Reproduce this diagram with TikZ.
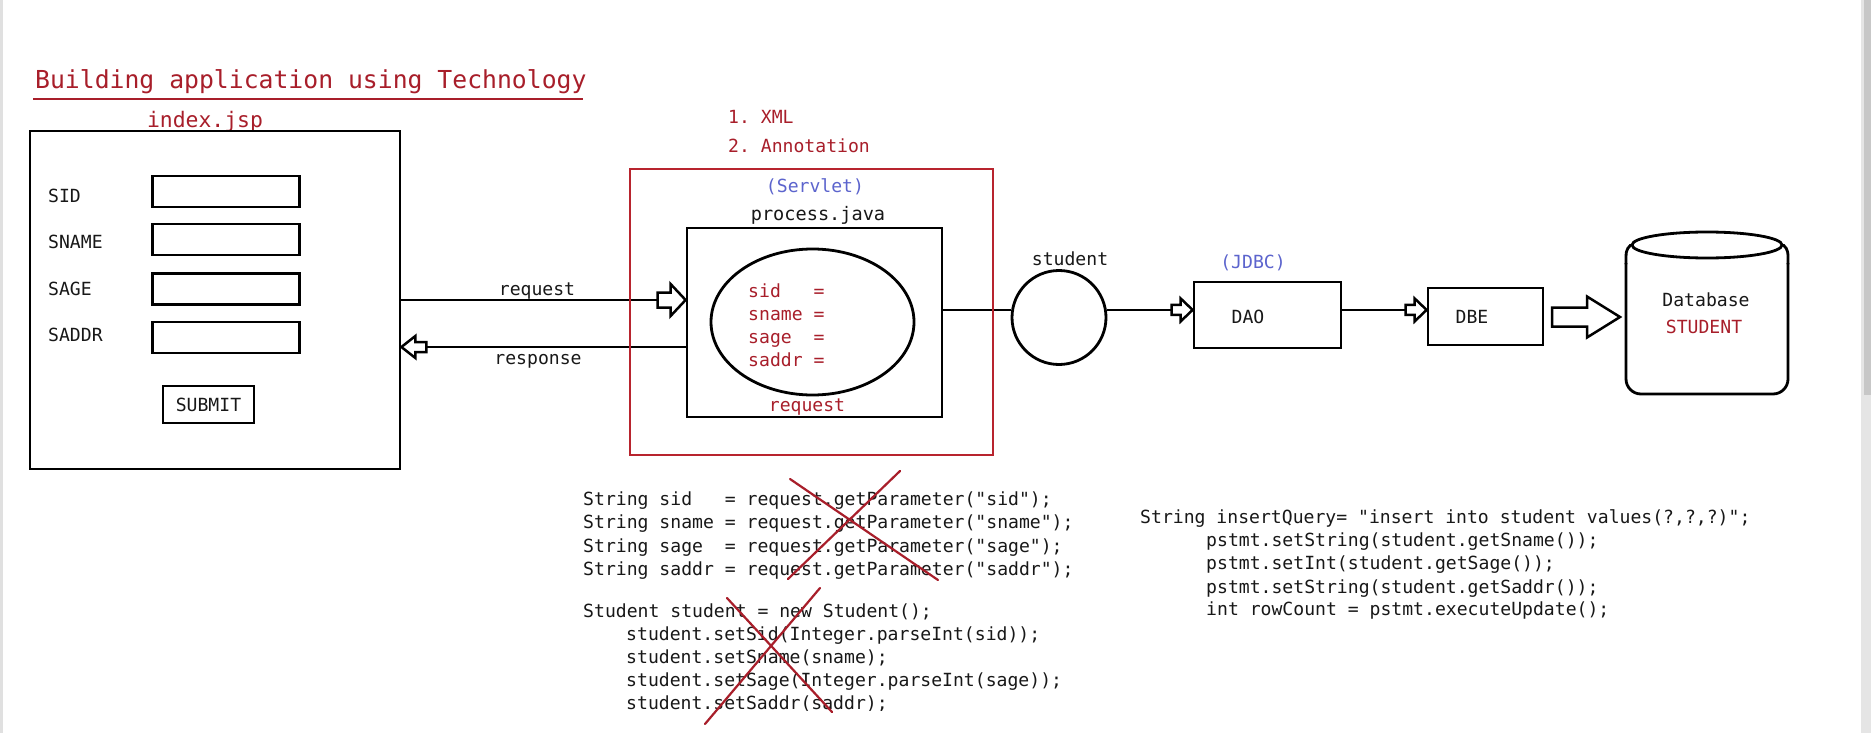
\documentclass[tikz,border=0pt]{standalone}
\usepackage{fontspec}
\setmonofont{DejaVu Sans Mono}
\usetikzlibrary{calc,shapes.geometric}
\definecolor{dred}{RGB}{168,30,42}
\definecolor{bred}{RGB}{184,36,46}
\definecolor{sblue}{RGB}{92,100,205}
\definecolor{ink}{RGB}{24,24,24}
\newcommand\myfs[1]{\ttfamily\fontsize{#1}{#1}\selectfont}
\tikzset{
  txt/.style={inner sep=0pt, text=ink, font=\myfs{18.1}},
  code/.style={txt, anchor=west, text height=17pt, text depth=3pt},
  box/.style={draw=black, line width=2.8pt, inner sep=0pt, rectangle},
  wire/.style={draw=black, line width=2.8pt},
  cross/.style={draw=dred, line width=2.2pt, line cap=round},
  pics/harrow/.style args={#1/#2/#3/#4}{code={
    \draw[line width=2.5pt, fill=white, line join=miter]
      (0,0) -- (-#3,-#4) -- (-#3,-#2) -- (-#3-#1,-#2) -- (-#3-#1,#2) -- (-#3,#2) -- (-#3,#4) -- cycle;}},
}
\begin{document}
\begin{tikzpicture}[x=1pt,y=-1pt]
\useasboundingbox (0,0) rectangle (1871,733);
\fill[white] (0,0) rectangle (1871,733);
\fill[black!12] (0,0) rectangle (3,733);
\fill[black!10] (1861,0) rectangle (1871,733);
\fill[black!22] (1864,0) rectangle (1871,395);

% title
\node[txt, text=dred, font=\myfs{24.75}, anchor=west] (title) at (35,82) {Building application using Technology};
\draw[dred, line width=2.6pt] (33,99) -- (583,99);

% index.jsp
\node[txt, text=dred, font=\myfs{21.4}] (idxlabel) at (205,122) {index.jsp};
\node[box, minimum width=370pt, minimum height=338pt] (idx) at (215,300) {};
\node[code] (lsid) at (48,195) {SID};
\node[code] (lsname) at (48,241) {SNAME};
\node[code] (lsage) at (48,288) {SAGE};
\node[code] (lsaddr) at (48,334) {SADDR};
\node[box, minimum width=147pt, minimum height=31pt] (fsid) at (226,191.5) {};
\node[box, minimum width=147pt, minimum height=31pt] (fsname) at (226,239.5) {};
\node[box, minimum width=147pt, minimum height=31pt] (fsage) at (226,289) {};
\node[box, minimum width=147pt, minimum height=31pt] (fsaddr) at (226,337.5) {};
\node[box, txt, draw=black, line width=2.8pt, minimum width=91pt, minimum height=37pt] (submit) at (208.5,404.5) {SUBMIT};

% servlet
\node[txt, text=dred, anchor=west] (xml) at (728,117) {1. XML};
\node[txt, text=dred, anchor=west] (anno) at (728,146) {2. Annotation};
\node[txt, text=sblue] (servlbl) at (815,187) {(Servlet)};
\node[txt, font=\myfs{18.6}] (proclbl) at (818,215) {process.java};
\node[box, minimum width=255pt, minimum height=189pt] (proc) at (814.5,322.5) {};
\node[draw=black, ellipse, line width=2.8pt, inner sep=0pt, minimum width=203pt, minimum height=146pt] (reqobj) at (812.5,322) {};
\node[code, text=dred] (psid) at (748,290) {sid\ \ \ =};
\node[code, text=dred] (psname) at (748,313) {sname =};
\node[code, text=dred] (psage) at (748,336) {sage\ \ =};
\node[code, text=dred] (psaddr) at (748,359) {saddr =};
\node[txt, text=dred] (reqobjlbl) at (807,407) {request};

% request / response
\coordinate (reqtip) at (proc.west |- 0,300);
\draw[wire] (idx.east |- reqtip) -- ($(reqtip)+(-28,0)$);
\pic at (reqtip) {harrow=13/7.5/15/16};
\node[txt] (reqtxt) at (537,291) {request};
\coordinate (resptip) at (idx.east |- 0,347);
\draw[wire] (proc.west |- resptip) -- ($(resptip)+(25,0)$);
\pic[rotate=180] at (resptip) {harrow=11/5/14/11};
\node[txt] (resptxt) at (538,361) {response};

% student, DAO, DBE
\node[draw=black, circle, line width=2.8pt, inner sep=0pt, minimum size=94pt] (stu) at (1059,317.5) {};
\node[txt] (stulbl) at (1070,259) {student};
\draw[wire] (proc.east |- stu.171) -- (stu.171);
\node[box, minimum width=147pt, minimum height=66pt] (dao) at (1267.5,315) {};
\node[txt] (daotxt) at (1248,317) {DAO};
\node[txt, text=sblue] (jdbc) at (1253,263) {(JDBC)};
\coordinate (daotip) at (dao.west |- stu.9);
\draw[wire] (stu.9) -- ($(daotip)+(-20,0)$);
\pic at (daotip) {harrow=9/5/12/11.5};
\node[box, minimum width=115pt, minimum height=57pt] (dbe) at (1485.5,316.5) {};
\node[txt] (dbetxt) at (1472,317) {DBE};
\coordinate (dbetip) at (dbe.west |- stu.9);
\draw[wire] (dao.east |- dbetip) -- ($(dbetip)+(-21,0)$);
\pic at (dbetip) {harrow=9/5/12/11.5};

% database
\coordinate (dbin) at (1620,317);
\pic at (dbin) {harrow=35/9.5/33/20.5};
\node[draw=black, ellipse, line width=2.8pt, inner sep=0pt, minimum width=150pt, minimum height=26pt] (dbtop) at (1707,245) {};
\draw[wire, line cap=round] (dbtop.west) .. controls ($(dbtop.west)+(-5,5)$) and (1626,252) .. (1626,264);
\draw[wire, line cap=round] (dbtop.east) .. controls ($(dbtop.east)+(5,5)$) and (1788,252) .. (1788,264);
\draw[wire, rounded corners=15pt] (1626,263) -- (1626,394) -- (1788,394) -- (1788,263);
\node[txt] (dbtxt) at (1706,300) {Database};
\node[txt, text=dred] (dbname) at (1704,327) {STUDENT};

% red servlet frame
\node[draw=bred, line width=2.6pt, inner sep=0pt, minimum width=363pt, minimum height=286pt] (servlet) at (811.5,312) {};

% code block 1
\node[code] (c1) at (583,498) {String sid\ \ \ = request.getParameter("sid");};
\node[code] (c2) at (583,521.5) {String sname = request.getParameter("sname");};
\node[code] (c3) at (583,545) {String sage\ \ = request.getParameter("sage");};
\node[code] (c4) at (583,568) {String saddr = request.getParameter("saddr");};
\node[code] (c5) at (583,610) {Student student = new Student();};
\node[code] (c6) at (626,633) {student.setSid(Integer.parseInt(sid));};
\node[code] (c7) at (626,656) {student.setSname(sname);};
\node[code] (c8) at (626,679) {student.setSage(Integer.parseInt(sage));};
\begin{scope}
\clip (0,0) rectangle (1871,710);
\node[code] (c9) at (626,702) {student.setSaddr(saddr);};
\end{scope}
\draw[cross] (790,479) -- (938,580);
\draw[cross] (900,471) -- (788,579);
\draw[cross] (727,598) -- (832,712);
\draw[cross] (820,588) -- (705,724);

% code block 2
\node[code] (d1) at (1140,516.5) {String insertQuery= "insert into student values(?,?,?)";};
\node[code] (d2) at (1206,539) {pstmt.setString(student.getSname());};
\node[code] (d3) at (1206,562) {pstmt.setInt(student.getSage());};
\node[code] (d4) at (1206,586) {pstmt.setString(student.getSaddr());};
\node[code] (d5) at (1206,608.5) {int rowCount = pstmt.executeUpdate();};
\end{tikzpicture}
\end{document}
